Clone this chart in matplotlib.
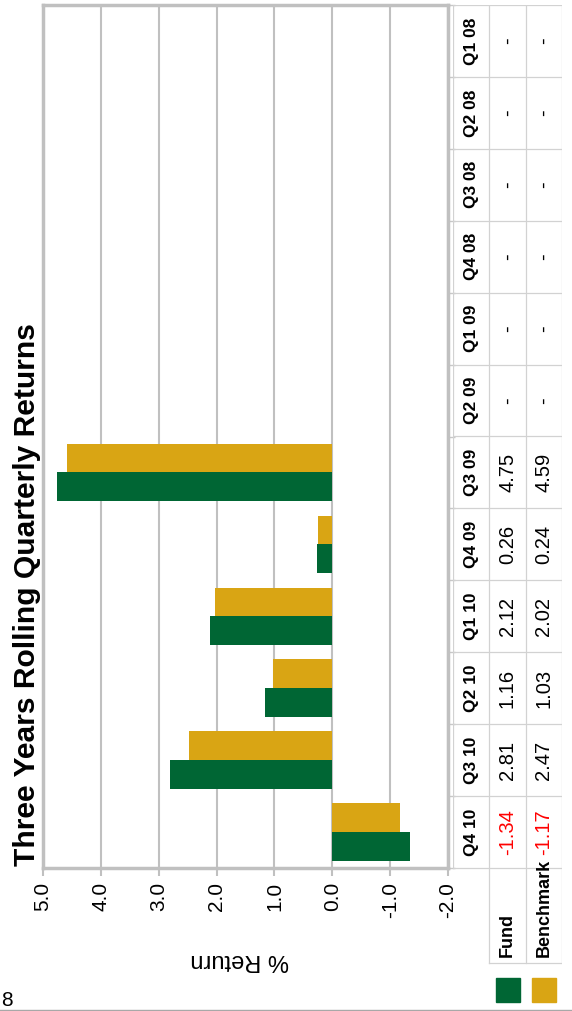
import matplotlib
matplotlib.use("Agg")
import matplotlib.pyplot as plt
import numpy as np
from matplotlib.patches import Rectangle
from matplotlib.lines import Line2D

# ---- data -------------------------------------------------------------
quarters = ["Q1 08", "Q2 08", "Q3 08", "Q4 08", "Q1 09", "Q2 09",
            "Q3 09", "Q4 09", "Q1 10", "Q2 10", "Q3 10", "Q4 10"]
fund = [None, None, None, None, None, None, 4.75, 0.26, 2.12, 1.16, 2.81, -1.34]
benchmark = [None, None, None, None, None, None, 4.59, 0.24, 2.02, 1.03, 2.47, -1.17]
series_names = ["Fund", "Benchmark"]
value_ticks = [5, 4, 3, 2, 1, 0, -1, -2]
title = "Three Years Rolling Quarterly Returns"
axis_label = "% Return"
page_number = "8"

# ---- styling ----------------------------------------------------------
GREEN = "#006634"
GOLD = "#D9A514"
FRAME = "#c0c0c0"
TABLE_LINE = "#d2d2d2"
NARROW = ["Liberation Sans Narrow", "Liberation Sans", "DejaVu Sans"]
REGULAR = ["Liberation Sans", "DejaVu Sans"]

W, H = 572, 1011
fig = plt.figure(figsize=(W / 100, H / 100), dpi=100)


def box(x0, y0, x1, y1):
    """Axes rectangle from pixel edges measured from the top-left corner."""
    return [x0 / W, 1 - y1 / H, (x1 - x0) / W, (y1 - y0) / H]


# ---- bar chart (drawn sideways) ---------------------------------------
n = len(quarters)
pos = np.arange(n)
ax = fig.add_axes(box(43, 5, 448, 868))

f_idx = [i for i, v in enumerate(fund) if v is not None]
b_idx = [i for i, v in enumerate(benchmark) if v is not None]
ax.barh([pos[i] - 0.2 for i in b_idx], [benchmark[i] for i in b_idx],
        height=0.4, color=GOLD, zorder=3)
ax.barh([pos[i] + 0.2 for i in f_idx], [fund[i] for i in f_idx],
        height=0.4, color=GREEN, zorder=3)

ax.set_xlim(max(value_ticks), min(value_ticks))
ax.set_ylim(n - 0.5, -0.5)
ax.set_axisbelow(True)
ax.xaxis.grid(True, color=FRAME, lw=1.5)
for sp in ax.spines.values():
    sp.set_color(FRAME)
    sp.set_linewidth(2.5)

ax.set_xticks(value_ticks)
ax.set_xticklabels([f"{v:.1f}" for v in value_ticks])
ax.tick_params(axis="x", direction="out", length=6, width=1.5, color=FRAME,
               pad=4, labelsize=15, labelrotation=90)
for lbl in ax.get_xticklabels():
    lbl.set_family(NARROW)

ax.yaxis.tick_right()
ax.set_yticks(np.arange(-0.5, n, 1))
ax.set_yticklabels([])
ax.tick_params(axis="y", direction="out", length=5, width=1, color="#c8c8c8")

# ---- data table -------------------------------------------------------
unit = 863 / n
tax = fig.add_axes(box(453, 5, 562, 1011))
tax.set_xlim(0, 3)
tax.set_ylim(-0.5 + 1006 / unit, -0.5)
tax.axis("off")
header_bottom = -0.5 + (963 - 5) / unit

for b in np.arange(-0.5, n, 1):
    tax.plot([0, 3], [b, b], color=TABLE_LINE, lw=0.9)
tax.plot([1, 3], [header_bottom, header_bottom], color=TABLE_LINE, lw=0.9)
tax.plot([0, 0], [-0.5, n - 0.5], color=TABLE_LINE, lw=0.9)
for xc in (1, 2, 3):
    tax.plot([xc, xc], [-0.5, header_bottom], color=TABLE_LINE, lw=0.9)

for i, q in enumerate(quarters):
    tax.text(0.5, i, q, rotation=90, ha="center", va="center",
             fontsize=12.5, fontweight="bold", family=NARROW)
    for col, series in ((1, fund), (2, benchmark)):
        v = series[i]
        txt = "-" if v is None else f"{v:.2f}"
        color = "#ff0000" if (v is not None and v < 0) else "black"
        tax.text(col + 0.5, i, txt, rotation=90, ha="center", va="center",
                 fontsize=14.5, color=color, family=NARROW)

name_start = -0.5 + (957 - 5) / unit
for col, name in ((1, series_names[0]), (2, series_names[1])):
    tax.text(col + 0.5, name_start, name, rotation=90, ha="center",
             va="bottom", fontsize=13, fontweight="bold", family=NARROW)

# legend swatches under the series names
sw_w = 24 / (109 / 3)
sw_top = -0.5 + (978 - 5) / unit
sw_h = 24 / unit
for col, color in ((1, GREEN), (2, GOLD)):
    tax.add_patch(Rectangle((col + 0.5 - sw_w / 2, sw_top), sw_w, sw_h,
                            color=color, clip_on=False))

# ---- titles and page furniture ----------------------------------------
fig.text(27 / W, 1 - 866 / H, title, rotation=90, ha="center", va="bottom",
         fontsize=21.6, fontweight="bold", family=NARROW)
fig.text(240 / W, 1 - 960 / H, axis_label, rotation=180, ha="center",
         va="center", fontsize=17, family=REGULAR)
fig.add_artist(Line2D([0, 1], [1 - 1009.5 / H] * 2, transform=fig.transFigure,
                      color="#a8a8a8", lw=1))
fig.text(7 / W, 1 - 1000 / H, page_number, ha="center", va="center",
         fontsize=15, family=REGULAR)

fig.savefig("out.png", dpi=100)
